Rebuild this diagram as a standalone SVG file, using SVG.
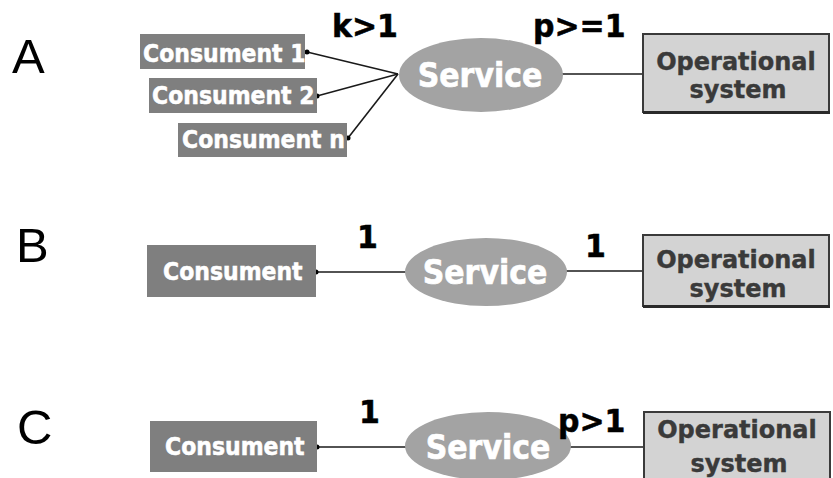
<svg xmlns="http://www.w3.org/2000/svg" width="833" height="478" viewBox="0 0 833 478">
  <style>
    .row { font-family: "Liberation Sans", Arial, sans-serif; font-size: 49px; fill: #000; }
    .cons rect { fill: #7f7f7f; }
    .cons text { font-family: "DejaVu Sans", Verdana, sans-serif; font-weight: bold; font-size: 22px; fill: #fff; stroke: #fff; stroke-width: 0.5; }
    .svc ellipse { fill: #a3a3a3; }
    .svc text { font-family: "DejaVu Sans", Verdana, sans-serif; font-weight: bold; font-size: 30px; fill: #fff; stroke: #fff; stroke-width: 0.6; text-anchor: middle; }
    .ops rect { fill: #d3d3d3; stroke: #3a3a3a; stroke-width: 2; }
    .ops line { stroke: #2a2a2a; stroke-width: 3; }
    .ops text { font-family: "DejaVu Sans", Verdana, sans-serif; font-weight: bold; font-size: 24px; fill: #3a3a3a; stroke: #3a3a3a; stroke-width: 0.4; text-anchor: middle; }
    .lbl { font-family: "DejaVu Sans", Verdana, sans-serif; font-weight: bold; font-size: 30px; fill: #000; stroke: #000; stroke-width: 0.5; }
    .conn line { stroke: #1a1a1a; stroke-width: 1.6; }
    .conn circle { fill: #000; }
  </style>

  <!-- row letters -->
  <text class="row" x="12" y="73">A</text>
  <text class="row" x="16" y="262">B</text>
  <text class="row" x="17" y="444">C</text>

  <!-- connectors -->
  <g id="connectors" class="conn">
    <line x1="307" y1="52" x2="398" y2="74"/>
    <line x1="317" y1="96" x2="398" y2="74"/>
    <line x1="348" y1="138" x2="398" y2="74"/>
    <line x1="562" y1="74" x2="643" y2="74"/>
    <circle cx="307" cy="52" r="2.5"/>
    <circle cx="317" cy="96" r="2.5"/>
    <circle cx="348" cy="138" r="2.5"/>

    <line x1="316" y1="272" x2="406" y2="272"/>
    <line x1="566" y1="271" x2="643" y2="271"/>
    <circle cx="316" cy="272" r="2.5"/>

    <line x1="317" y1="447" x2="406" y2="447"/>
    <line x1="570" y1="447" x2="644" y2="447"/>
    <circle cx="317" cy="447" r="2.5"/>
  </g>

  <!-- row A -->
  <g id="consument-1" class="cons">
    <rect x="140" y="34" width="165" height="35"/>
    <text transform="translate(143 62) scale(1 1.12)">Consument 1</text>
  </g>
  <g id="consument-2" class="cons">
    <rect x="149" y="78" width="168" height="35"/>
    <text transform="translate(152 104) scale(1 1.12)">Consument 2</text>
  </g>
  <g id="consument-n" class="cons">
    <rect x="178" y="123" width="169" height="34"/>
    <text transform="translate(182 148) scale(1 1.12)">Consument n</text>
  </g>
  <g id="service-a" class="svc">
    <ellipse cx="481" cy="75" rx="82" ry="37"/>
    <text transform="translate(480 87) scale(1 1.12)">Service</text>
  </g>
  <g id="ops-a" class="ops">
    <rect x="643" y="34" width="186" height="78"/>
    <line x1="643" y1="112.5" x2="830" y2="112.5"/>
    <text x="736" y="70">Operational</text>
    <text x="738" y="98">system</text>
  </g>
  <text class="lbl" transform="translate(332 37) scale(1 1.08)">k&gt;1</text>
  <text class="lbl" transform="translate(533 37) scale(1 1.08)">p&gt;=1</text>

  <!-- row B -->
  <g id="consument-b" class="cons">
    <rect x="147" y="245" width="169" height="52"/>
    <text transform="translate(163 280) scale(1 1.12)">Consument</text>
  </g>
  <g id="service-b" class="svc">
    <ellipse cx="486" cy="272" rx="81" ry="34"/>
    <text transform="translate(485 284) scale(1 1.12)">Service</text>
  </g>
  <g id="ops-b" class="ops">
    <rect x="643" y="235" width="186" height="71"/>
    <line x1="643" y1="306.5" x2="830" y2="306.5"/>
    <text x="736" y="268">Operational</text>
    <text x="738" y="297">system</text>
  </g>
  <text class="lbl" transform="translate(357 248) scale(1 1.08)">1</text>
  <text class="lbl" transform="translate(585 257) scale(1 1.08)">1</text>

  <!-- row C -->
  <g id="consument-c" class="cons">
    <rect x="150" y="421" width="167" height="51"/>
    <text transform="translate(165 455) scale(1 1.12)">Consument</text>
  </g>
  <g id="service-c" class="svc">
    <ellipse cx="488" cy="446" rx="83" ry="34"/>
    <text transform="translate(488 459) scale(1 1.12)">Service</text>
  </g>
  <g id="ops-c" class="ops">
    <rect x="644" y="412" width="186" height="75"/>
    <text x="737" y="438">Operational</text>
    <text x="739" y="472">system</text>
  </g>
  <text class="lbl" transform="translate(359 423) scale(1 1.08)">1</text>
  <text class="lbl" transform="translate(558 432) scale(1 1.08)">p&gt;1</text>
</svg>
